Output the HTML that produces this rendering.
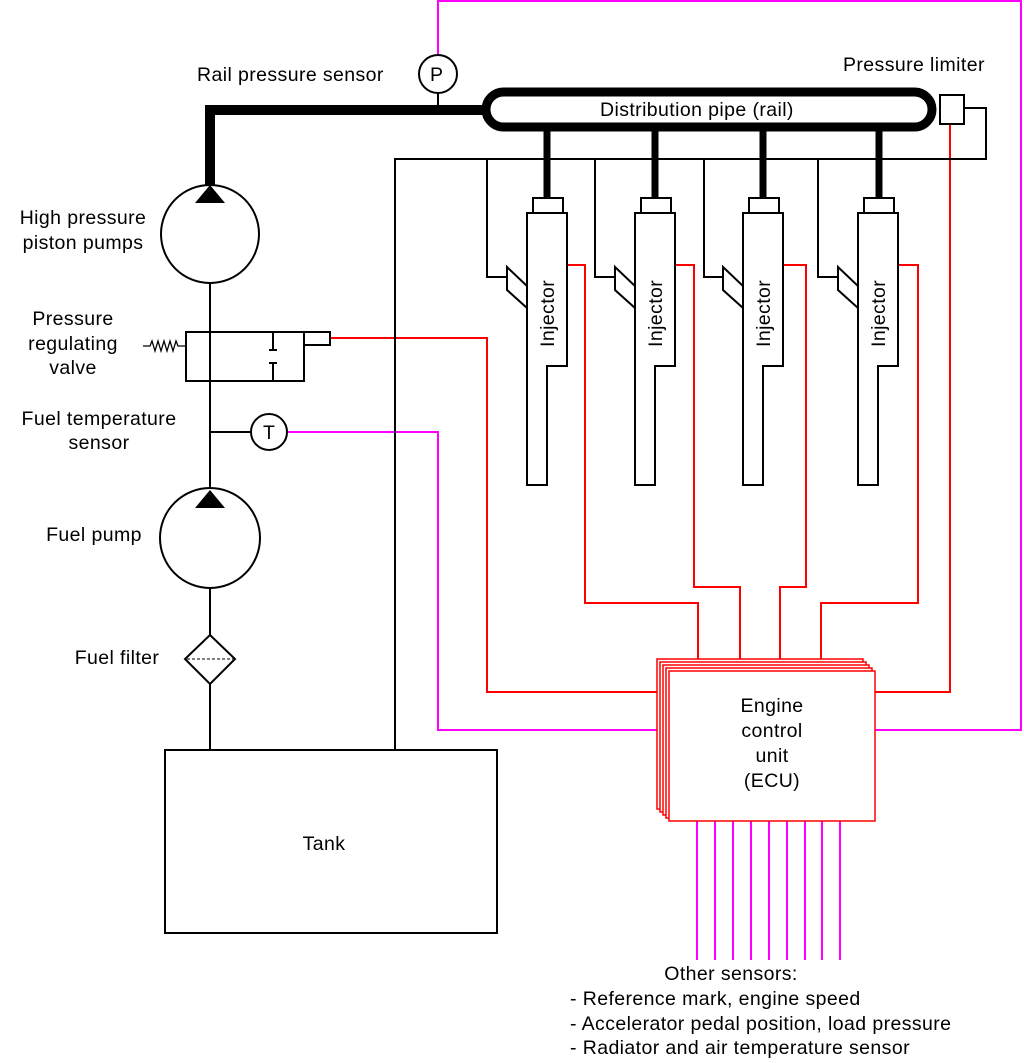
<!DOCTYPE html>
<html><head><meta charset="utf-8"><style>
html,body{margin:0;padding:0;background:#fff;}
svg{display:block;}
text{font-family:"Liberation Sans",sans-serif;font-size:19.5px;letter-spacing:0.4px;fill:#000;}
</style></head><body>
<svg width="1024" height="1063" viewBox="0 0 1024 1063" xmlns="http://www.w3.org/2000/svg">
<g fill="none" stroke-width="2">
<polyline stroke="#f0f" points="438,55 438,1 1021,1 1021,730 875,730"/>
<polyline stroke="#f0f" points="287,432 438,432 438,730 657,730"/>
<g stroke="#f0f">
<line x1="697" y1="821" x2="697" y2="960"/><line x1="715" y1="821" x2="715" y2="960"/>
<line x1="733" y1="821" x2="733" y2="960"/><line x1="751" y1="821" x2="751" y2="960"/>
<line x1="769" y1="821" x2="769" y2="960"/><line x1="787" y1="821" x2="787" y2="960"/>
<line x1="805" y1="821" x2="805" y2="960"/><line x1="822" y1="821" x2="822" y2="960"/>
<line x1="840" y1="821" x2="840" y2="960"/>
</g>
<g stroke="#f00">
<polyline points="330,338 487,338 487,692 657,692"/>
<polyline points="950,124 950,692 875,692"/>
<polyline points="567,265 585,265 585,603 698,603 698,660"/>
<polyline points="675,265 694,265 694,587 740,587 740,660"/>
<polyline points="783,265 806,265 806,587 780,587 780,660"/>
<polyline points="898,265 918,265 918,603 821,603 821,660"/>
</g>
<g stroke="#000">
<polyline points="964,108 986,108 986,159 395,159 395,750"/>
<polyline points="487,159 487,277 507,277"/>
<polyline points="595,159 595,277 615,277"/>
<polyline points="704,159 704,277 724,277"/>
<polyline points="818,159 818,277 838,277"/>
<line x1="438" y1="93" x2="438" y2="110"/>
<line x1="210" y1="282" x2="210" y2="490"/>
<line x1="210" y1="588" x2="210" y2="635"/>
<line x1="210" y1="684" x2="210" y2="750"/>
<line x1="210" y1="432" x2="251" y2="432"/>
</g>
<polyline stroke="#000" stroke-width="10" points="210,192 210,110 487,110"/>
<rect x="486" y="92" width="446" height="35" rx="17.5" stroke="#000" stroke-width="9" fill="#fff"/>
<g stroke="#000" stroke-width="7">
<line x1="547" y1="128" x2="547" y2="199"/>
<line x1="655" y1="128" x2="655" y2="199"/>
<line x1="763" y1="128" x2="763" y2="199"/>
<line x1="879" y1="128" x2="879" y2="199"/>
</g>
<rect x="940" y="95" width="24" height="29" stroke="#000" fill="#fff"/>
<circle cx="438" cy="74" r="19" stroke="#000" fill="#fff"/>
<circle cx="269" cy="432" r="18" stroke="#000" fill="#fff"/>
<circle cx="210" cy="234" r="49" stroke="#000" fill="#fff"/>
<polygon points="210,185 195,203 225,203" fill="#000" stroke="none"/>
<circle cx="210" cy="538" r="50" stroke="#000" fill="#fff"/>
<polygon points="210,490 195,508 225,508" fill="#000" stroke="none"/>
<polygon points="210,635 235,659 210,684 185,659" stroke="#000" fill="#fff"/>
<line x1="187" y1="659" x2="233" y2="659" stroke="#000" stroke-width="1" stroke-dasharray="3,2"/>
<rect x="186" y="332" width="118" height="49" stroke="#000" fill="#fff"/>
<rect x="304" y="332" width="26" height="13" stroke="#000" fill="#fff"/>
<line x1="210" y1="310" x2="210" y2="450" stroke="#000"/>
<g stroke="#000">
<line x1="273" y1="332" x2="273" y2="350"/><line x1="269" y1="350" x2="277" y2="350"/>
<line x1="273" y1="363" x2="273" y2="381"/><line x1="269" y1="363" x2="277" y2="363"/>
</g>
<polyline stroke="#000" stroke-width="1.3" points="143,346 150,346 152,341 155,351 158,341 161,351 164,341 167,351 170,341 173,351 176,341 178,346 186,346"/>
<rect x="165" y="750" width="332" height="183" stroke="#000" fill="#fff"/>
<g stroke="#000" fill="#fff">
<g id="inj">
<rect x="533" y="198" width="30" height="15"/>
<polygon points="527,213 567,213 567,366 547,366 547,485 527,485"/>
<polygon points="507,267 527,286 527,308 507,290"/>
</g>
<use href="#inj" x="108"/>
<use href="#inj" x="216"/>
<use href="#inj" x="331"/>
</g>
<g stroke="#f00" fill="#fff" stroke-width="1.5">
<rect x="657" y="659" width="206" height="150"/>
<rect x="660" y="662" width="206" height="150"/>
<rect x="663" y="665" width="206" height="150"/>
<rect x="666" y="668" width="206" height="150"/>
<rect x="669" y="671" width="206" height="150"/>
</g>
</g>
<text x="600" y="116">Distribution pipe (rail)</text>
<text x="197" y="81">Rail pressure sensor</text>
<text x="843" y="71">Pressure limiter</text>
<text x="430" y="81">P</text>
<text x="263" y="439">T</text>
<text x="83" y="224" text-anchor="middle">High pressure</text>
<text x="83" y="249" text-anchor="middle">piston pumps</text>
<text x="73" y="325" text-anchor="middle">Pressure</text>
<text x="73" y="350" text-anchor="middle">regulating</text>
<text x="73" y="374" text-anchor="middle">valve</text>
<text x="99" y="425" text-anchor="middle">Fuel temperature</text>
<text x="99" y="449" text-anchor="middle">sensor</text>
<text x="94" y="541" text-anchor="middle">Fuel pump</text>
<text x="117" y="664" text-anchor="middle">Fuel filter</text>
<text x="324" y="850" text-anchor="middle">Tank</text>
<text x="772" y="712" text-anchor="middle">Engine</text>
<text x="772" y="737" text-anchor="middle">control</text>
<text x="772" y="762" text-anchor="middle">unit</text>
<text x="772" y="787" text-anchor="middle">(ECU)</text>
<text x="731" y="980" text-anchor="middle">Other sensors:</text>
<text x="570" y="1005">- Reference mark, engine speed</text>
<text x="570" y="1030">- Accelerator pedal position, load pressure</text>
<text x="570" y="1054">- Radiator and air temperature sensor</text>
<text transform="translate(554,347) rotate(-90)">Injector</text>
<text transform="translate(662,347) rotate(-90)">Injector</text>
<text transform="translate(770,347) rotate(-90)">Injector</text>
<text transform="translate(885,347) rotate(-90)">Injector</text>
</svg>
</body></html>
